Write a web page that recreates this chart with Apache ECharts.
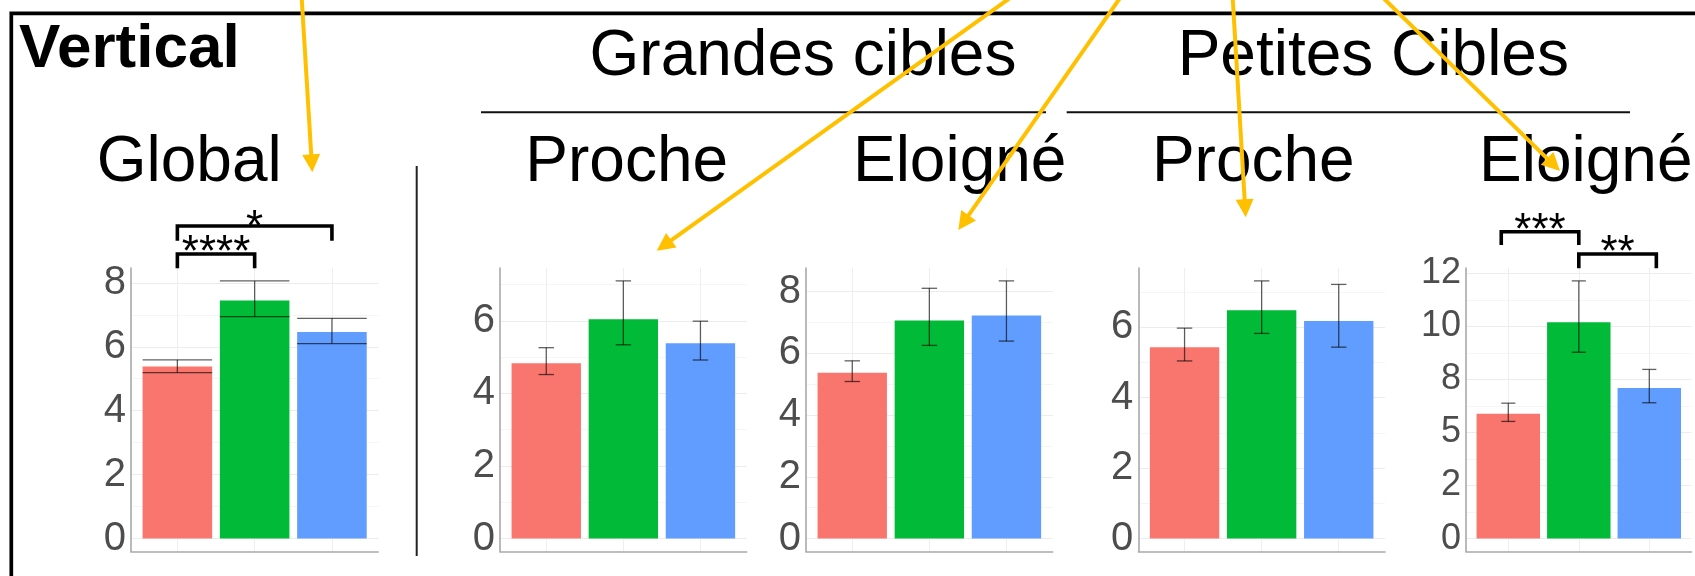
<!DOCTYPE html>
<html>
<head>
<meta charset="utf-8">
<script src="https://cdn.jsdelivr.net/npm/echarts@6/dist/echarts.min.js"></script>
<style>
  html, body { margin: 0; padding: 0; background: #ffffff; }
  #chart { width: 1695px; height: 576px; }
</style>
</head>
<body>
<div id="chart"></div>
<script>
// ---------------- DATA ----------------
const groups = [1, 2, 3];                       // three conditions (x positions)
const barColors = ['#F8766D', '#00BA38', '#619CFF'];

const figureTitle = 'Vertical';
const groupTitles = ['Grandes cibles', 'Petites Cibles'];
const panelTitles = ['Global', 'Proche', 'Eloigné', 'Proche', 'Eloigné'];

// Global
const globalMean = [5.38, 7.45, 6.46];
const globalLow  = [5.19, 6.94, 6.10];
const globalHigh = [5.59, 8.06, 6.89];
// Grandes cibles - Proche
const grandProcheMean = [4.83, 6.04, 5.38];
const grandProcheLow  = [4.52, 5.34, 4.92];
const grandProcheHigh = [5.26, 7.10, 5.99];
// Grandes cibles - Eloigné
const grandEloigneMean = [5.37, 7.07, 7.23];
const grandEloigneLow  = [5.09, 6.26, 6.40];
const grandEloigneHigh = [5.76, 8.11, 8.35];
// Petites cibles - Proche
const petitProcheMean = [5.43, 6.48, 6.17];
const petitProcheLow  = [5.04, 5.82, 5.43];
const petitProcheHigh = [5.97, 7.31, 7.21];
// Petites cibles - Eloigné
const petitEloigneMean = [5.88, 10.19, 7.09];
const petitEloigneLow  = [5.52, 8.78, 6.40];
const petitEloigneHigh = [6.38, 12.14, 7.97];

// tick values and their printed labels
const ticksGlobal = [0, 2, 4, 6, 8];           const labelsGlobal = ['0', '2', '4', '6', '8'];
const ticksGrandProche = [0, 2, 4, 6];         const labelsGrandProche = ['0', '2', '4', '6'];
const ticksGrandEloigne = [0, 2, 4, 6, 8];     const labelsGrandEloigne = ['0', '2', '4', '6', '8'];
const ticksPetitProche = [0, 2, 4, 6];         const labelsPetitProche = ['0', '2', '4', '6'];
const ticksPetitEloigne = [0, 2.5, 5, 7.5, 10, 12.5];
const labelsPetitEloigne = ['0', '2', '5', '8', '10', '12'];

// significance brackets (x in data units)
const sigGlobal = [
  { from: 1, to: 2, label: '****' },
  { from: 1, to: 3, label: '*' }
];
const sigPetitEloigne = [
  { from: 0.9, to: 2, label: '***' },
  { from: 2, to: 3.1, label: '**' }
];

// ---------------- LAYOUT ----------------
const FONT = '"Liberation Sans", Arial, Helvetica, sans-serif';
const gridLeft  = [131, 500, 806, 1138.3, 1466];
const gridWidth = [247.3, 246.7, 246.7, 246.7, 225.6];
const gridTop = 268;
const gridHeight = 283.5;
const labelSize = [40, 40, 40, 40, 36];
const capWidth = [0.9, 0.2, 0.2, 0.2, 0.2];
const titleX = [189.2, 626.7, 959.7, 1253.3, 1585.8];
// bracket pixel rows: [bar y, leg bottom y, text baseline]
const bracketRowsGlobal = [[254, 268.3, 269], [226, 240.7, 244]];
const bracketRowsPetit = [[231.7, 245, 247.5], [254, 268.3, 269]];
const arrows = [
  [301.7, -2, 312.3, 172.3],
  [1010, -2, 656.7, 250.7],
  [1120, -2, 958.3, 230],
  [1232.7, -2, 1245.7, 217.3],
  [1383.3, -2, 1560, 171]
];

const panels = [
  { mean: globalMean, low: globalLow, high: globalHigh, ticks: ticksGlobal, labels: labelsGlobal, step: 2 },
  { mean: grandProcheMean, low: grandProcheLow, high: grandProcheHigh, ticks: ticksGrandProche, labels: labelsGrandProche, step: 2 },
  { mean: grandEloigneMean, low: grandEloigneLow, high: grandEloigneHigh, ticks: ticksGrandEloigne, labels: labelsGrandEloigne, step: 2 },
  { mean: petitProcheMean, low: petitProcheLow, high: petitProcheHigh, ticks: ticksPetitProche, labels: labelsPetitProche, step: 2 },
  { mean: petitEloigneMean, low: petitEloigneLow, high: petitEloigneHigh, ticks: ticksPetitEloigne, labels: labelsPetitEloigne, step: 2.5 }
];

const chart = echarts.init(document.getElementById('chart'), null, { renderer: 'canvas' });

const grids = [], xAxes = [], yAxes = [], series = [];
panels.forEach((p, i) => {
  const M = Math.max(...p.high);           // ggplot-like 5% expansion
  const yMin = -0.05 * M, yMax = 1.05 * M;
  grids.push({ left: gridLeft[i], top: gridTop, width: gridWidth[i], height: gridHeight,
               containLabel: false, outerBoundsMode: 'none' });
  xAxes.push({
    type: 'value', gridIndex: i, min: 0.4, max: 3.6, minInterval: 1, maxInterval: 1,
    axisLine: { show: true, onZero: false, lineStyle: { color: '#a9a9a9', width: 1.6 } },
    axisTick: { show: false }, axisLabel: { show: false },
    splitLine: { show: true, showMinLine: false, showMaxLine: false, lineStyle: { color: '#eeeeee', width: 1 } }
  });
  yAxes.push({
    type: 'value', gridIndex: i, min: yMin, max: yMax, minInterval: p.step, maxInterval: p.step,
    axisLine: { show: true, onZero: false, lineStyle: { color: '#a9a9a9', width: 1.6 } },
    axisTick: { show: false },
    axisLabel: {
      show: true, margin: 5, color: '#4D4D4D', fontSize: labelSize[i], fontFamily: FONT,
      showMinLabel: true, showMaxLabel: true,
      formatter: v => {
        const k = p.ticks.findIndex(t => Math.abs(t - v) < 1e-6);
        return k >= 0 ? p.labels[k] : '';
      }
    },
    splitLine: { show: true, showMinLine: false, showMaxLine: false, lineStyle: { color: '#ececec', width: 1 } },
    minorTick: { show: false, splitNumber: 2 },
    minorSplitLine: { show: true, lineStyle: { color: '#f5f5f5', width: 1 } }
  });
  series.push({
    type: 'bar', xAxisIndex: i, yAxisIndex: i, barWidth: '90%', silent: true, z: 2,
    data: p.mean.map((v, j) => ({ value: [groups[j], v], itemStyle: { color: barColors[j] } }))
  });
  const cap = capWidth[i];
  series.push({
    type: 'custom', xAxisIndex: i, yAxisIndex: i, silent: true, z: 3,
    encode: { x: 0, y: [1, 2] },
    data: groups.map((g, j) => [g, p.low[j], p.high[j]]),
    renderItem: (params, api) => {
      const x = api.value(0), lo = api.value(1), hi = api.value(2);
      const a = api.coord([x, hi]), b = api.coord([x, lo]);
      const hw = api.size([cap, 0])[0] / 2;
      const st = { stroke: 'rgba(0,0,0,0.62)', lineWidth: 1.3, fill: null };
      return { type: 'group', children: [
        { type: 'line', shape: { x1: a[0], y1: a[1], x2: b[0], y2: b[1] }, style: st },
        { type: 'line', shape: { x1: a[0] - hw, y1: a[1], x2: a[0] + hw, y2: a[1] }, style: st },
        { type: 'line', shape: { x1: b[0] - hw, y1: b[1], x2: b[0] + hw, y2: b[1] }, style: st }
      ] };
    }
  });
});

chart.setOption({
  animation: false,
  backgroundColor: '#ffffff',
  grid: grids, xAxis: xAxes, yAxis: yAxes, series: series
});

// ---------------- ANNOTATIONS ----------------
const g = [];
function textAt(str, x, baseline, size, weight, align) {
  g.push({ type: 'text', z: 50, style: {
    text: str, x: x, y: baseline - 0.3465 * size,
    font: (weight || 'normal') + ' ' + size + 'px ' + FONT,
    fill: '#000', textAlign: align || 'center', align: align || 'center',
    textVerticalAlign: 'middle', verticalAlign: 'middle' } });
}
function line(x1, y1, x2, y2, w, color, z) {
  g.push({ type: 'line', z: z || 50, shape: { x1, y1, x2, y2 },
           style: { stroke: color || '#000', lineWidth: w, lineCap: 'butt' } });
}

// outer frame (left and top edges visible)
g.push({ type: 'rect', z: 50, shape: { x: 11.3, y: 13.3, width: 3000, height: 3000 },
         style: { fill: null, stroke: '#000', lineWidth: 3.7 } });
textAt(figureTitle, 19, 71.7, 62, 'bold', 'left');
textAt(groupTitles[0], 803, 80, 64);
textAt(groupTitles[1], 1373.3, 80, 64);
line(481, 112.3, 1046, 112.3, 2, '#111');
line(1066.7, 112.3, 1630, 112.3, 2, '#111');
panelTitles.forEach((t, i) => textAt(t, titleX[i], 185.7, 64));
line(416.7, 166, 416.7, 556, 2, '#222');

function brackets(list, rows, gi) {
  list.forEach((s, k) => {
    const r = rows[k];
    const xa = chart.convertToPixel({ gridIndex: gi }, [s.from, 0])[0];
    const xb = chart.convertToPixel({ gridIndex: gi }, [s.to, 0])[0];
    g.push({ type: 'polyline', z: 50, shape: { points: [[xa, r[1]], [xa, r[0]], [xb, r[0]], [xb, r[1]]] },
             style: { stroke: '#000', lineWidth: 3.6, fill: null, lineJoin: 'miter' } });
    textAt(s.label, (xa + xb) / 2, r[2], 44);
  });
}
brackets(sigGlobal, bracketRowsGlobal, 0);
brackets(sigPetitEloigne, bracketRowsPetit, 4);

// yellow arrows
arrows.forEach(a => {
  const [x1, y1, x2, y2] = a;
  const dx = x2 - x1, dy = y2 - y1, len = Math.hypot(dx, dy);
  const ux = dx / len, uy = dy / len, nx = -uy, ny = ux;
  const hl = 18, hw = 9;
  const bx = x2 - ux * hl, by = y2 - uy * hl;
  line(x1, y1, bx + ux * 2, by + uy * 2, 4, '#FFC000', 80);
  g.push({ type: 'polygon', z: 80, shape: { points: [[x2, y2], [bx + nx * hw, by + ny * hw], [bx - nx * hw, by - ny * hw]] },
           style: { fill: '#FFC000', stroke: null } });
});

chart.setOption({ graphic: g });
</script>
</body>
</html>
